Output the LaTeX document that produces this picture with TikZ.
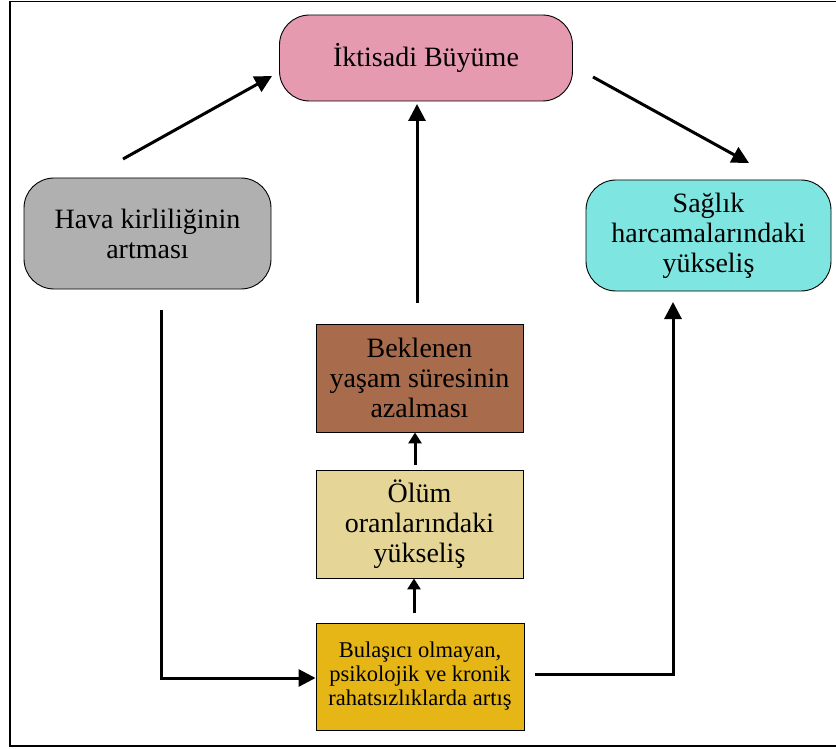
\documentclass[tikz,border=0pt]{standalone}
\usepackage{fontspec}
\setmainfont{Liberation Serif}
\usetikzlibrary{arrows.meta}
\definecolor{pinkc}{HTML}{E69AB0}
\definecolor{greyc}{HTML}{B0B0B0}
\definecolor{cyanc}{HTML}{7FE5E0}
\definecolor{brownc}{HTML}{A86B4B}
\definecolor{beigec}{HTML}{E5D597}
\definecolor{goldc}{HTML}{E6B617}
\tikzset{
  rbox/.style={draw=black, line width=0.9pt, rounded corners=30pt, align=center, inner sep=0pt, font=\fontsize{28}{30}\selectfont},
  sbox/.style={draw=black, line width=0.9pt, align=center, inner sep=0pt, font=\fontsize{28}{30}\selectfont},
  arr/.style={line width=3pt, -{Triangle[length=17pt,width=17pt]}},
  sarr/.style={line width=3pt, -{Triangle[length=11pt,width=13pt]}},
}
\begin{document}
\begin{tikzpicture}[x=1pt,y=-1pt]
\useasboundingbox (0,0) rectangle (836,749);
\draw[line width=1.2pt] (850,1.5) -- (10,1.5) -- (10,746) -- (850,746);
\node[rbox, fill=pinkc, minimum width=293pt, minimum height=86pt] (pink) at (426,58) {İktisadi Büyüme};
\node[rbox, fill=greyc, minimum width=247pt, minimum height=111pt] (grey) at (147.5,233.5) {Hava kirliliğinin\\artması};
\node[rbox, fill=cyanc, minimum width=245pt, minimum height=111pt] (cyan) at (708.5,235.5) {Sağlık\\harcamalarındaki\\yükseliş};
\node[sbox, fill=brownc, minimum width=207pt, minimum height=108pt] (brown) at (419.5,378) {Beklenen\\yaşam süresinin\\azalması};
\node[sbox, fill=beigec, minimum width=207pt, minimum height=108pt] (beige) at (419.5,524) {Ölüm\\oranlarındaki\\yükseliş};
\node[sbox, fill=goldc, minimum width=208pt, minimum height=107pt, font=\fontsize{22.5}{24}\selectfont] (gold) at (420,676.5) {Bulaşıcı olmayan,\\psikolojik ve kronik\\rahatsızlıklarda artış};
\coordinate (g1) at (123,159);
\coordinate (p1) at (272,76);
\coordinate (p2) at (593,77);
\coordinate (c1) at (749,163);
\coordinate (v1) at (417,303);
\coordinate (v2) at (417,104);
\coordinate (l1) at (161,310);
\coordinate (l2) at (161,678);
\coordinate (r1) at (535,674);
\coordinate (r2) at (673,674);
\coordinate (r3) at (673,302);
\draw[arr] (g1) -- (p1);
\draw[arr] (p2) -- (c1);
\draw[arr] (v1) -- (v2);
\draw[sarr] (415,465) -- (brown.south -| 415,0);
\draw[sarr] (414,613) -- (beige.south -| 414,0);
\draw[arr] (l1) -- (l2) -- (gold.west |- l2);
\draw[arr] (r1) -- (r2) -- (r3);
\end{tikzpicture}
\end{document}
